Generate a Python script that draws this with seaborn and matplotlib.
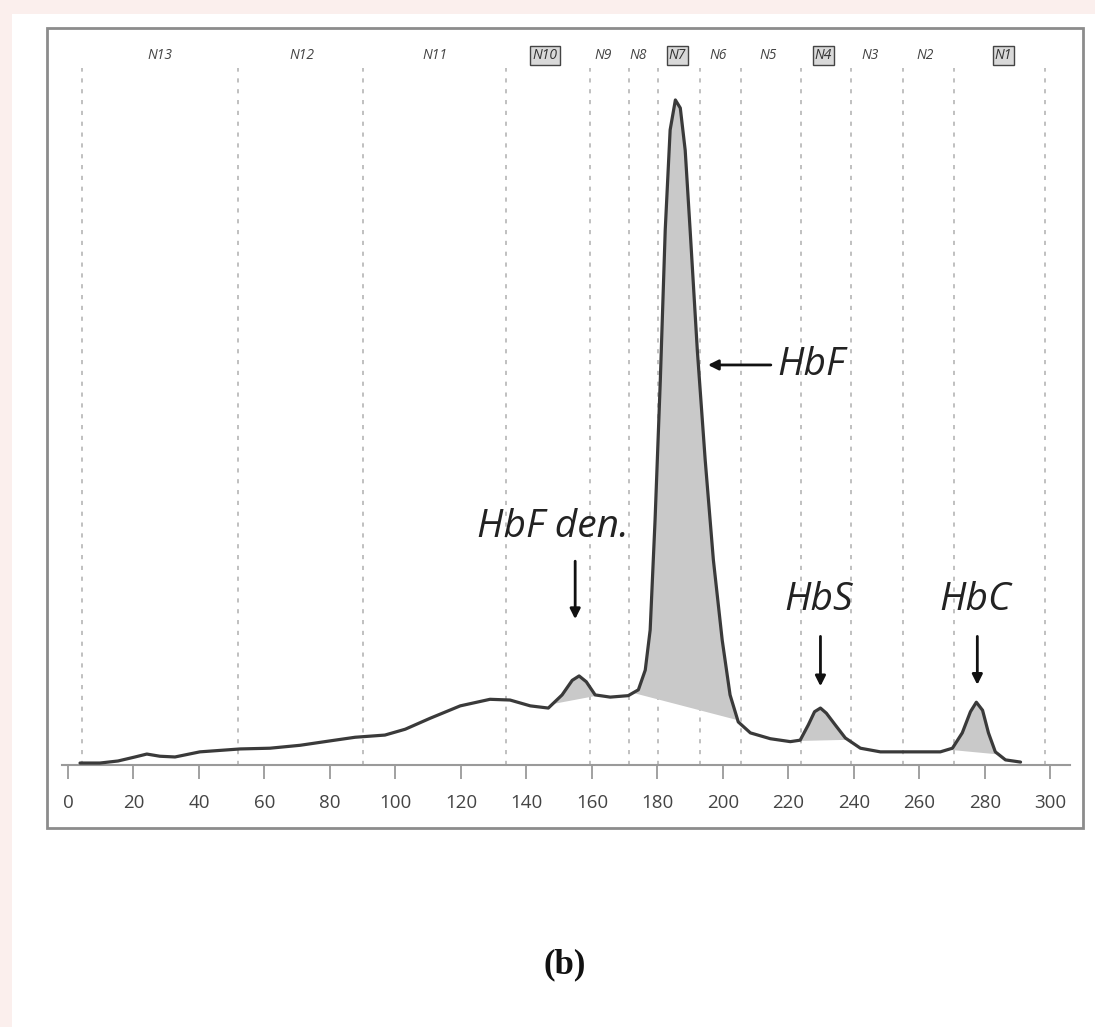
import numpy as np
import pandas as pd
import matplotlib
matplotlib.use("Agg")
import matplotlib.pyplot as plt
from matplotlib.patches import Rectangle
import seaborn as sns

# electrophoregram trace (migration position, signal)
position = [3.7, 9.8, 15.3, 20.5, 24.1, 28.1, 32.7, 40.3, 52.6, 61.7, 70.9, 80.0,
            87.7, 96.8, 103.0, 110.6, 119.8, 128.9, 135.0, 141.2, 146.7, 150.9,
            154.0, 156.1, 158.3, 161.0, 165.6, 171.1, 174.2, 176.3, 177.8, 179.3,
            180.9, 182.4, 183.9, 185.5, 187.0, 188.5, 190.0, 192.2, 194.6, 197.1,
            199.8, 202.2, 204.7, 208.4, 214.5, 220.6, 223.6, 226.1, 228.0, 229.8,
            231.6, 234.3, 237.4, 242.0, 248.1, 266.4, 270.1, 273.1, 275.6, 277.4,
            279.3, 281.1, 283.2, 286.3, 290.9]
signal = [0.27, 0.27, 0.55, 1.1, 1.5, 1.2, 1.1, 1.8, 2.2, 2.3, 2.7, 3.3,
          3.8, 4.1, 4.9, 6.4, 8.1, 9.0, 8.9, 8.1, 7.8, 9.6,
          11.6, 12.2, 11.4, 9.6, 9.3, 9.5, 10.3, 13.0, 18.5, 33.6,
          52.7, 73.3, 87.0, 91.1, 90.0, 84.2, 73.3, 56.8, 41.8, 28.1,
          17.1, 9.6, 5.9, 4.4, 3.6, 3.2, 3.4, 5.5, 7.3, 7.8,
          7.1, 5.5, 3.7, 2.3, 1.8, 1.8, 2.3, 4.4, 7.3, 8.6,
          7.5, 4.4, 1.8, 0.7, 0.4]

# shaded (integrated) peaks: start / end of the baseline chord
peak_start = [148.2, 172.7, 223.0, 269.0]
peak_end = [161.5, 204.5, 238.0, 284.0]

# zone boundaries and zone names along the top
zone_lines = [4.3, 51.9, 90.1, 133.8, 159.5, 171.4, 180.3, 193.1, 205.6, 224.0,
              239.2, 255.1, 270.7, 298.5]
zone_names = ["N13", "N12", "N11", "N10", "N9", "N8", "N7", "N6", "N5", "N4",
              "N3", "N2", "N1"]
zone_centers = [28.1, 71.5, 112.1, 145.7, 163.5, 174.2, 186.1, 198.6, 213.9,
                230.7, 245.1, 261.9, 285.7]
zone_boxed = ["N10", "N7", "N4", "N1"]

x_ticks = list(range(0, 301, 20))

# peak labels
peak_labels = ["HbF", "HbF den.", "HbS", "HbC"]

df = pd.DataFrame({"position": position, "signal": signal})

sns.set_theme(style="white")
plt.rcParams["font.family"] = ["Open Sans", "DejaVu Sans"]

fig = plt.figure(figsize=(10.95, 10.27), dpi=100, facecolor="#fbefed")
fig.patches.append(Rectangle((12 / 1095, 0), 1, 1 - 14 / 1027, transform=fig.transFigure,
                             facecolor="white", edgecolor="none", zorder=-10))
# outer frame of the panel
fig.patches.append(Rectangle((47 / 1095, 1 - 828 / 1027), (1083 - 47) / 1095, 800 / 1027,
                             transform=fig.transFigure, facecolor="none",
                             edgecolor="#8c8c8c", linewidth=2, zorder=-5))

ax = fig.add_axes([62 / 1095, 1 - 765 / 1027, (1070 - 62) / 1095, 730 / 1027])
ax.set_zorder(5)
ax.set_facecolor("none")

ax.vlines(zone_lines, 0, 95.5, colors="#b5b5b5", linestyles=(0, (2.5, 4)), linewidth=1.2)

for s, e in zip(peak_start, peak_end):
    seg = df[(df.position >= s) & (df.position <= e)]
    xs = np.r_[s, seg.position.values, e]
    ys = np.interp(xs, df.position, df.signal)
    base = np.interp(xs, [s, e], [ys[0], ys[-1]])
    ax.fill_between(xs, base, ys, color="#c9c9c9", linewidth=0, zorder=2)

sns.lineplot(data=df, x="position", y="signal", ax=ax, color="#3a3a3a",
             linewidth=2.3, zorder=3)

for name, cx in zip(zone_names, zone_centers):
    if name in zone_boxed:
        ax.text(cx, 97.2, name, ha="center", va="center", fontsize=10, color="#333",
                fontstyle="italic",
                bbox=dict(boxstyle="square,pad=0.15", facecolor="#d9d9d9",
                          edgecolor="#444", linewidth=1))
    else:
        ax.text(cx, 97.2, name, ha="center", va="center", fontsize=10, color="#444",
                fontstyle="italic")

arrow = dict(arrowstyle="-|>", color="#111", lw=2, mutation_scale=15)
label_font = dict(fontsize=28, fontstyle="italic", color="#222")

ax.annotate("", xy=(194.6, 54.8), xytext=(215.5, 54.8), arrowprops=arrow)
ax.text(216.5, 54.8, peak_labels[0], ha="left", va="center", **label_font)

ax.text(148.2, 32.6, peak_labels[1], ha="center", va="center", **label_font)
ax.annotate("", xy=(154.9, 19.6), xytext=(154.9, 28.3), arrowprops=arrow)

ax.text(229.1, 22.6, peak_labels[2], ha="center", va="center", **label_font)
ax.annotate("", xy=(229.8, 10.4), xytext=(229.8, 18.0), arrowprops=arrow)

ax.text(277.1, 22.6, peak_labels[3], ha="center", va="center", **label_font)
ax.annotate("", xy=(277.7, 10.6), xytext=(277.7, 18.0), arrowprops=arrow)

ax.set_xlim(-1.8, 306)
ax.set_ylim(0, 100)
ax.set_xticks(x_ticks)
ax.set_yticks([])
ax.set_xlabel("")
ax.set_ylabel("")
for side in ["top", "left", "right"]:
    ax.spines[side].set_visible(False)
ax.spines["bottom"].set_color("#9a9a9a")
ax.spines["bottom"].set_linewidth(1.5)
ax.tick_params(axis="x", direction="out", length=10, width=1.3, color="#9a9a9a",
               labelsize=13.5, labelcolor="#444", pad=11, bottom=True)

fig.text(565 / 1095, 1 - 965 / 1027, "(b)", ha="center", va="center", fontsize=25,
         fontweight="bold", family="Liberation Serif", color="#111")

fig.savefig("out.png", dpi=100)
